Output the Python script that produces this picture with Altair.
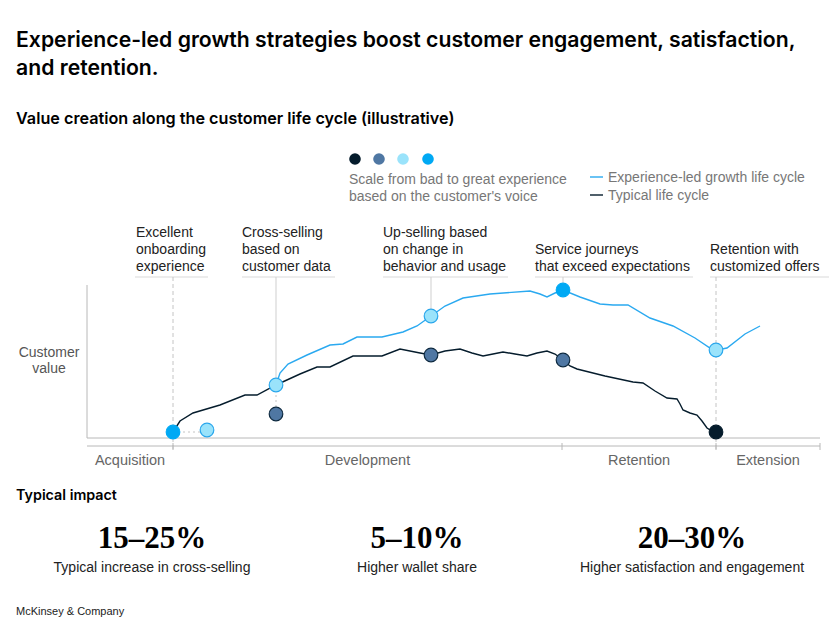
import altair as alt
import pandas as pd

# ---------------- data ----------------
levels = ["Bad", "Fair", "Good", "Great"]
level_fill = ["#051c2c", "#4f77a3", "#9ae3fb", "#00a9f4"]
level_stroke = ["#051c2c", "#0e2a40", "#2aa7ec", "#00a9f4"]

series = ["Experience-led growth life cycle", "Typical life cycle"]
series_colors = ["#2aa9f0", "#051c2c"]

# life-cycle position (x) and customer value (y)
exp_pos = [189, 193, 201, 220, 243, 256, 270, 295, 316, 330, 344, 358, 376, 403, 443,
           453, 460, 468, 476, 493, 513, 526, 541, 563, 586, 608, 623, 630, 640, 658, 673]
exp_val = [53, 65, 74, 83, 93, 94, 101, 101, 106, 112, 122, 132, 140, 144, 147,
           144, 141, 145, 148, 141, 134, 133, 133, 120, 112, 100, 90, 88, 90, 104, 112]

typ_pos = [86, 93, 106, 133, 158, 170, 189, 213, 230, 243, 266, 295, 313, 333, 344, 358,
           373, 385, 396, 406, 416, 428, 440, 450, 460, 468, 476, 483, 490, 518, 546, 556,
           568, 580, 590, 593, 596, 603, 610, 615, 620, 625, 629]
typ_val = [6, 17, 25, 33, 43, 43, 53, 64, 71, 71, 82, 82, 89, 85, 83, 87,
           89, 85, 82, 84, 86, 84, 82, 85, 87, 84, 78, 72, 69, 62, 56, 55,
           47, 40, 39, 34, 28, 25, 23, 17, 10, 7, 6]

moment_pos = [86, 120, 189, 189, 344, 344, 476, 476, 629, 629]
moment_val = [6, 8, 53, 24, 122, 83, 148, 78, 88, 6]
moment_level = ["Great", "Good", "Good", "Fair", "Good", "Fair", "Great", "Fair", "Good", "Bad"]

stages = ["Acquisition", "Development", "Retention", "Extension"]
stage_edges = [0, 86, 475, 629, 733]

annotation_lines = [
    ["Excellent", "onboarding", "experience"],
    ["Cross-selling", "based on", "customer data"],
    ["Up-selling based", "on change in", "behavior and usage"],
    ["Service journeys", "that exceed expectations"],
    ["Retention with", "customized offers"],
]

impact_values = ["15–25%", "5–10%", "20–30%"]
impact_labels = ["Typical increase in cross-selling", "Higher wallet share",
                 "Higher satisfaction and engagement"]

title_lines = ["Experience-led growth strategies boost customer engagement, satisfaction,",
               "and retention."]
subtitle = "Value creation along the customer life cycle (illustrative)"
scale_note = ["Scale from bad to great experience", "based on the customer's voice"]
y_title = ["Customer", "value"]
impact_head = "Typical impact"
source = "McKinsey & Company"

# ---------------- layout (in chart units) ----------------
X_DOMAIN = [-79, 742]
Y_DOMAIN = [-179, 430]
annotation_x = [49, 155, 296, 448, 623]
annotation_underline = [[48, 121], [155, 248], [296, 421], [448, 606], [623, 750]]
line3_y = [201, 184, 167]
guide_top = 161
impact_x = [65, 330, 605]

SANS = "Liberation Sans"
HEAD = "Inter"
SERIF = "Liberation Serif"

xs = alt.Scale(domain=X_DOMAIN, nice=False, zero=False)
ys = alt.Scale(domain=Y_DOMAIN, nice=False, zero=False)


def X(f="pos"):
    return alt.X(f"{f}:Q", scale=xs, axis=None)


def Y(f="val"):
    return alt.Y(f"{f}:Q", scale=ys, axis=None)


# ---- lines
rows = []
for i, (p, v) in enumerate(zip(exp_pos, exp_val)):
    rows.append({"series": series[0], "pos": p, "val": v, "ord": i})
for i, (p, v) in enumerate(zip(typ_pos, typ_val)):
    rows.append({"series": series[1], "pos": p, "val": v, "ord": i})
lines_df = pd.DataFrame(rows)
series_scale = alt.Scale(domain=series, range=series_colors)

lines = alt.Chart(lines_df).mark_line(strokeWidth=1.4).encode(
    x=X(), y=Y(), color=alt.Color("series:N", scale=series_scale, legend=None),
    detail="series:N", order="ord:Q")

# ---- moments (dots)
dots_df = pd.DataFrame({"pos": moment_pos, "val": moment_val, "level": moment_level})
fill_scale = alt.Scale(domain=levels, range=level_fill)
stroke_scale = alt.Scale(domain=levels, range=level_stroke)
dots = alt.Chart(dots_df).mark_point(filled=True, size=185, strokeWidth=1.2, opacity=1,
                                     shape="circle").encode(
    x=X(), y=Y(),
    fill=alt.Fill("level:N", scale=fill_scale, legend=None),
    stroke=alt.Stroke("level:N", scale=stroke_scale, legend=None))

# ---- guides
dash_df = pd.DataFrame({"pos": [stage_edges[1], stage_edges[3]],
                        "val": [guide_top, guide_top], "val2": [-12, -12]})
dashed = alt.Chart(dash_df).mark_rule(color="#c4c4c4", strokeDash=[4, 3], strokeWidth=1).encode(
    x=X(), y=Y(), y2=alt.Y2("val2:Q"))

solid_df = pd.DataFrame({"pos": [moment_pos[2], moment_pos[4], moment_pos[6]],
                         "val": [guide_top] * 3,
                         "val2": [moment_val[2], moment_val[4], moment_val[6]]})
solid = alt.Chart(solid_df).mark_rule(color="#cfcfcf", strokeWidth=1).encode(
    x=X(), y=Y(), y2=alt.Y2("val2:Q"))

dotv_df = pd.DataFrame({"pos": [moment_pos[2]], "val": [moment_val[2]], "val2": [moment_val[3]]})
dotv = alt.Chart(dotv_df).mark_rule(color="#c4c4c4", strokeDash=[2, 3], strokeWidth=1).encode(
    x=X(), y=Y(), y2=alt.Y2("val2:Q"))
doth_df = pd.DataFrame({"pos": [moment_pos[0]], "pos2": [moment_pos[1]], "val": [moment_val[0]]})
doth = alt.Chart(doth_df).mark_rule(color="#c4c4c4", strokeDash=[2, 3], strokeWidth=1).encode(
    x=X(), x2=alt.X2("pos2:Q"), y=Y())

# ---- annotation underlines
ul_df = pd.DataFrame({"pos": [u[0] for u in annotation_underline],
                      "pos2": [u[1] for u in annotation_underline],
                      "val": [guide_top] * len(annotation_underline)})
underlines = alt.Chart(ul_df).mark_rule(color="#d9d9d9", strokeWidth=1).encode(
    x=X(), x2=alt.X2("pos2:Q"), y=Y())

# ---- axes
axis_col = "#b8b8b8"
hax_df = pd.DataFrame({"pos": [0, 0], "pos2": [stage_edges[-1]] * 2, "val": [0, -8]})
hax = alt.Chart(hax_df).mark_rule(color=axis_col, strokeWidth=1).encode(
    x=X(), x2=alt.X2("pos2:Q"), y=Y())
vax_df = pd.DataFrame({"pos": [0], "val": [0], "val2": [153]})
vax = alt.Chart(vax_df).mark_rule(color=axis_col, strokeWidth=1).encode(
    x=X(), y=Y(), y2=alt.Y2("val2:Q"))
tick_df = pd.DataFrame({"pos": stage_edges[1:], "val": [-5] * 4, "val2": [-12] * 4})
ticks = alt.Chart(tick_df).mark_rule(color=axis_col, strokeWidth=1).encode(
    x=X(), y=Y(), y2=alt.Y2("val2:Q"))

# ---- legend
leg_dot_df = pd.DataFrame({"pos": [268, 292, 316, 341], "val": [279] * 4, "level": levels})
leg_dots = alt.Chart(leg_dot_df).mark_circle(size=135, opacity=1).encode(
    x=X(), y=Y(), fill=alt.Fill("level:N", scale=fill_scale, legend=None))
leg_line_df = pd.DataFrame({"pos": [503, 503], "pos2": [516, 516], "val": [261, 243],
                            "series": series})
leg_lines = alt.Chart(leg_line_df).mark_rule(strokeWidth=1.4).encode(
    x=X(), x2=alt.X2("pos2:Q"), y=Y(),
    color=alt.Color("series:N", scale=series_scale, legend=None))


# ---- text helper
def text_layer(df, size, color, weight="normal", font=SANS, align="left"):
    return alt.Chart(df).mark_text(
        font=font, fontSize=size, fontWeight=weight, color=color, align=align,
        baseline="alphabetic").encode(x=X(), y=Y(), text="text:N")


title_df = pd.DataFrame({"text": title_lines, "pos": [-71, -71], "val": [391, 363]})
sub_df = pd.DataFrame({"text": [subtitle], "pos": [-71], "val": [314]})

ann_rows = []
for lines_, x0 in zip(annotation_lines, annotation_x):
    ys_ = line3_y[-len(lines_):]
    for t, yy in zip(lines_, ys_):
        ann_rows.append({"text": t, "pos": x0, "val": yy})
ann_df = pd.DataFrame(ann_rows)

legend_txt_df = pd.DataFrame({
    "text": scale_note + series,
    "pos": [262, 262, 521, 521],
    "val": [254, 237, 256, 238]})

ytitle_df = pd.DataFrame({"text": y_title, "pos": [-38, -38], "val": [81, 65]})
stage_df = pd.DataFrame({
    "text": stages,
    "pos": [(a + b) / 2 for a, b in zip(stage_edges[:-1], stage_edges[1:])],
    "val": [-27] * 4})

head_df = pd.DataFrame({"text": [impact_head], "pos": [-71], "val": [-62]})
num_df = pd.DataFrame({"text": impact_values, "pos": impact_x, "val": [-110] * 3})
lab_df = pd.DataFrame({"text": impact_labels, "pos": impact_x, "val": [-134] * 3})
src_df = pd.DataFrame({"text": [source], "pos": [-71], "val": [-177]})

texts = [
    text_layer(title_df, 21.2, "#000000", 600, font=HEAD),
    text_layer(sub_df, 16.2, "#000000", 600, font=HEAD),
    text_layer(ann_df, 14, "#222222"),
    text_layer(legend_txt_df, 14, "#777777"),
    text_layer(ytitle_df, 14, "#555555", align="center"),
    text_layer(stage_df, 14.5, "#666666", align="center"),
    text_layer(head_df, 14.3, "#000000", 600, font=HEAD),
    text_layer(num_df, 31, "#000000", "bold", font=SERIF, align="center"),
    text_layer(lab_df, 14, "#222222", align="center"),
    text_layer(src_df, 11, "#222222"),
]

chart = alt.layer(
    underlines, dashed, solid, dotv, doth, hax, vax, ticks,
    lines, dots, leg_dots, leg_lines, *texts
).properties(
    width=821, height=609, padding=0,
    autosize=alt.AutoSizeParams(type="none")
).configure_view(stroke=None)

chart.save("out.html", embed_options={"renderer": "svg", "actions": False})
